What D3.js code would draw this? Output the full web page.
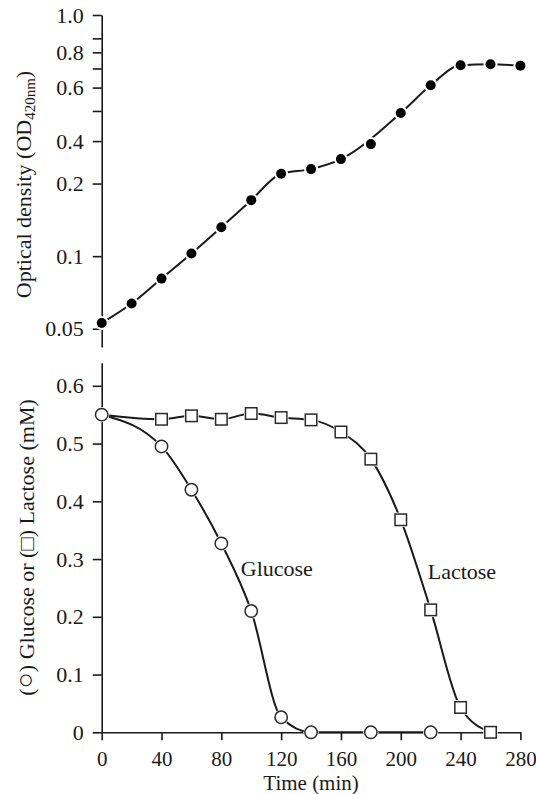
<!DOCTYPE html>
<html>
<head>
<meta charset="utf-8">
<script src="https://cdn.jsdelivr.net/npm/d3@7"></script>
<style>
  html, body { margin: 0; padding: 0; background: #fff; }
  svg { display: block; }
  text { font-family: "Liberation Serif", "Times New Roman", serif; fill: #1a1a1a; }
</style>
</head>
<body>
<svg id="chart" width="536" height="794"></svg>
<script>
// ---- Growth (optical density at 420 nm) ----
const odTimes  = [0, 20, 40, 60, 80, 100, 120, 140, 160, 180, 200, 220, 240, 260, 280];
const odValues = [0.0528, 0.0636, 0.0807, 0.1025, 0.1318, 0.1707, 0.2195, 0.2296,
                  0.2526, 0.2915, 0.3922, 0.511, 0.619, 0.6246, 0.6164];
// samples that the drawn growth trend passes by
const odOffTrend = [180];
const odTickValues = [0.05, 0.1, 0.2, 0.3, 0.4, 0.5, 0.6, 0.7, 0.8, 1.0];
const odTickLabels = ["0.05", "0.1", "0.2", "0.4", "", "0.6", "", "0.8", "", "1.0"];

// ---- Sugar concentrations (mM) ----
const glucoseTimes  = [0, 40, 60, 80, 100, 120, 140, 180, 220];
const glucoseValues = [0.55, 0.495, 0.42, 0.327, 0.21, 0.026, 0, 0, 0];
const lactoseTimes  = [0, 40, 60, 80, 100, 120, 140, 160, 180, 200, 220, 240, 260];
const lactoseValues = [0.55, 0.542, 0.548, 0.542, 0.552, 0.545, 0.541, 0.52, 0.473,
                       0.368, 0.212, 0.043, 0];
const sugarTickValues = [0, 0.1, 0.2, 0.3, 0.4, 0.5, 0.6];
const sugarTickLabels = ["0", "0.1", "0.2", "0.3", "0.4", "0.5", "0.6"];
const timeTickValues  = [0, 40, 80, 120, 160, 200, 240, 280];
const timeTickLabels  = ["0", "40", "80", "120", "160", "200", "240", "280"];

const svg = d3.select("#chart");
const INK = "#1a1a1a";

// Shared time scale
const x = d3.scaleLinear().domain([0, 280]).range([101.7, 520.4]);
// Upper panel: log optical density
const yOD = d3.scaleLog().domain([0.042, 1]).range([347, 15]);
// Lower panel: concentration
const yS = d3.scaleLinear().domain([0, 0.64]).range([732.3, 362.7]);

function styleAxis(size) {
  return g => {
    g.selectAll("path.domain").attr("stroke", INK).attr("stroke-width", 1.6);
    g.selectAll(".tick line").attr("stroke", INK).attr("stroke-width", 1.6);
    g.selectAll(".tick text").attr("font-size", size).attr("fill", INK);
  };
}

// ---- Upper panel axis ----
svg.append("g")
  .attr("transform", `translate(${x(0)},0)`)
  .call(d3.axisLeft(yOD)
    .tickValues(odTickValues)
    .tickFormat((d, i) => odTickLabels[i])
    .tickSize(9).tickPadding(9).tickSizeOuter(0))
  .call(styleAxis(22));

// ---- Upper panel trend line and points ----
const odPoints = odTimes.map((t, i) => ({ t, v: odValues[i] }));
const odLine = d3.line()
  .x(d => x(d.t)).y(d => yOD(d.v))
  .curve(d3.curveMonotoneX);
svg.append("path")
  .datum(odPoints.filter(d => !odOffTrend.includes(d.t)))
  .attr("d", odLine)
  .attr("fill", "none").attr("stroke", INK).attr("stroke-width", 2);
const odMarks = svg.append("g").selectAll("g")
  .data(odPoints)
  .join("g")
  .attr("transform", d => `translate(${x(d.t)},${yOD(d.v)})`);
odMarks.append("circle").attr("r", 7).attr("fill", "#fff");
odMarks.append("circle").attr("r", 5).attr("fill", "#000");

// ---- Lower panel axes ----
svg.append("g")
  .attr("transform", `translate(${x(0)},0)`)
  .call(d3.axisLeft(yS)
    .tickValues(sugarTickValues)
    .tickFormat((d, i) => sugarTickLabels[i])
    .tickSize(9).tickPadding(9).tickSizeOuter(0))
  .call(styleAxis(22));

svg.append("g")
  .attr("transform", `translate(0,${yS(0)})`)
  .call(d3.axisBottom(x)
    .tickValues(timeTickValues)
    .tickFormat((d, i) => timeTickLabels[i])
    .tickSize(8).tickPadding(11).tickSizeOuter(0))
  .call(styleAxis(21));

// ---- Lower panel curves ----
const glucose = glucoseTimes.map((t, i) => ({ t, v: glucoseValues[i] }));
const lactose = lactoseTimes.map((t, i) => ({ t, v: lactoseValues[i] }));
const sugarLine = d3.line()
  .x(d => x(d.t)).y(d => yS(d.v))
  .curve(d3.curveMonotoneX);

svg.append("path").datum(lactose).attr("d", sugarLine)
  .attr("fill", "none").attr("stroke", INK).attr("stroke-width", 2);
svg.append("path").datum(glucose).attr("d", sugarLine)
  .attr("fill", "none").attr("stroke", INK).attr("stroke-width", 2);

// Lactose squares (the 0 min sample shares its marker with glucose)
const sq = 11.5;
const lacMarks = svg.append("g").selectAll("g")
  .data(lactose.filter(d => d.t > 0))
  .join("g")
  .attr("transform", d => `translate(${x(d.t)},${yS(d.v)})`);
lacMarks.append("rect")
  .attr("x", -sq / 2 - 1.5).attr("y", -sq / 2 - 1.5)
  .attr("width", sq + 3).attr("height", sq + 3)
  .attr("fill", "#fff");
lacMarks.append("rect")
  .attr("x", -sq / 2).attr("y", -sq / 2)
  .attr("width", sq).attr("height", sq)
  .attr("fill", "#fff").attr("stroke", "#2a2a2a").attr("stroke-width", 1.5);

// Glucose circles
const gluMarks = svg.append("g").selectAll("g")
  .data(glucose)
  .join("g")
  .attr("transform", d => `translate(${x(d.t)},${yS(d.v)})`);
gluMarks.append("circle").attr("r", 7.6).attr("fill", "#fff");
gluMarks.append("circle").attr("r", 6.2)
  .attr("fill", "#fff").attr("stroke", "#2a2a2a").attr("stroke-width", 1.5);

// Curve names
svg.append("text")
  .attr("x", x(93)).attr("y", yS(0.27))
  .attr("font-size", 22).text("Glucose");
svg.append("text")
  .attr("x", x(218)).attr("y", yS(0.266))
  .attr("font-size", 22).text("Lactose");

// ---- Axis titles ----
const odTitle = svg.append("text")
  .attr("transform", "translate(31,184.5) rotate(-90)")
  .attr("text-anchor", "middle")
  .attr("font-size", 22);
odTitle.append("tspan").text("Optical density (OD");
odTitle.append("tspan").attr("font-size", 15).attr("dy", 4).text("420nm");
odTitle.append("tspan").attr("dy", -4).text(")");

const sugarTitle = svg.append("text")
  .attr("transform", "translate(34,547.5) rotate(-90)")
  .attr("text-anchor", "middle")
  .attr("font-size", 22);
sugarTitle.append("tspan").text("(");
sugarTitle.append("tspan").attr("font-size", 27).text("○");
sugarTitle.append("tspan").text(") Glucose or (□) Lactose (mM)");

svg.append("text")
  .attr("x", (x(0) + x(280)) / 2).attr("y", 789.5)
  .attr("text-anchor", "middle")
  .attr("font-size", 21)
  .text("Time (min)");
</script>
</body>
</html>
